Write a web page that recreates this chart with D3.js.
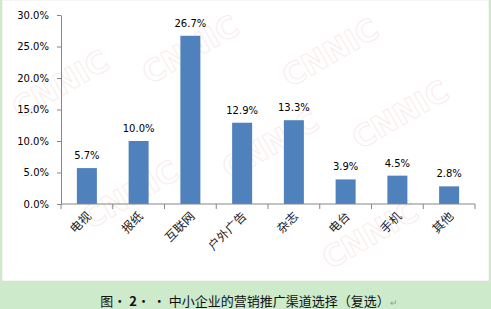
<!DOCTYPE html>
<html>
<head>
<meta charset="utf-8">
<title>中小企业的营销推广渠道选择</title>
<style>
    body { margin: 0; background: #cdeacb; }
    .tick text { font-family: "DejaVu Sans", sans-serif; font-size: 10px; fill: #000; }
    .domain, .tick line { stroke: #868686; }
    .value { font-family: "DejaVu Sans", sans-serif; font-size: 10px; fill: #000; }
    .cat { font-family: "Noto Sans CJK SC", serif; font-size: 12px; fill: #222; }
    .mark { font-family: "DejaVu Sans", sans-serif; font-size: 30px; font-weight: bold; fill: none; stroke: #f8ecec; stroke-width: 1; }
    .caption { font-family: "Noto Sans CJK SC", sans-serif; font-size: 13px; fill: #111; }
</style>
</head>
<body>
<svg width="491" height="309"></svg>
<script src="https://d3js.org/d3.v7.min.js"></script>
<script>
const categories = ["电视", "报纸", "互联网", "户外广告", "杂志", "电台", "手机", "其他"];
const values = [5.7, 10.0, 26.7, 12.9, 13.3, 3.9, 4.5, 2.8];
const yTicks = [0, 5, 10, 15, 20, 25, 30];
const captionParts = ["图· ", "2", "· · 中小企业的营销推广渠道选择（复选）", "↵"];

const svg = d3.select("svg");

// white chart area, green page behind it
svg.append("rect").attr("x", 2).attr("y", 0).attr("width", 487).attr("height", 281)
    .attr("fill", "#fff").attr("stroke", "#d8d8d8").attr("stroke-width", 0.5);

// faint CNNIC watermarks
const wmPos = [[20, 120], [150, 85], [290, 88], [90, 230], [230, 180], [360, 150], [330, 270]];
svg.append("g").selectAll("text").data(wmPos).join("text")
    .attr("class", "mark")
    .attr("transform", d => `translate(${d[0]},${d[1]}) rotate(-30)`)
    .text("CNNIC");

const x = d3.scaleBand().domain(categories).range([61, 475]);
const y = d3.scaleLinear().domain([0, 30]).range([204, 15]);

const barW = 20;
svg.append("g").selectAll("rect").data(values).join("rect")
    .attr("x", (d, i) => x(categories[i]) + x.bandwidth() / 2 - barW / 2)
    .attr("y", d => y(d))
    .attr("width", barW)
    .attr("height", d => y(0) - y(d))
    .attr("fill", "#4f81bd");

svg.append("g").selectAll("text").data(values).join("text")
    .attr("class", "value")
    .attr("x", (d, i) => x(categories[i]) + x.bandwidth() / 2)
    .attr("y", d => y(d) - 9)
    .attr("text-anchor", "middle")
    .text(d => d.toFixed(1) + "%");

// y axis
svg.append("g").attr("transform", "translate(61,0)")
    .call(d3.axisLeft(y).tickValues(yTicks).tickFormat(d => d.toFixed(1) + "%").tickSize(4).tickSizeOuter(0).tickPadding(8));

// x axis: tick marks at band edges
const xAxis = svg.append("g").attr("transform", `translate(0,${y(0)})`);
xAxis.append("line").attr("class", "domain")
    .attr("x1", 61).attr("x2", 475).attr("stroke", "#868686");
const edges = categories.map(c => x(c)).concat([x.range()[1]]);
xAxis.selectAll(".edge").data(edges).join("line")
    .attr("class", "edge")
    .attr("x1", d => d).attr("x2", d => d)
    .attr("y1", 0).attr("y2", 5)
    .attr("stroke", "#868686");

svg.append("g").selectAll("text").data(categories).join("text")
    .attr("class", "cat")
    .attr("text-anchor", "end")
    .attr("transform", c => `translate(${x(c) + x.bandwidth() / 2 + 5},${y(0) + 13}) rotate(-45)`)
    .text(c => c);

// caption
const cap = svg.append("text").attr("class", "caption")
    .attr("x", 249).attr("y", 306).attr("text-anchor", "middle");
cap.selectAll("tspan").data(captionParts).join("tspan")
    .attr("font-weight", (d, i) => i === 1 ? "bold" : null)
    .attr("font-size", (d, i) => i === 3 ? "9px" : null)
    .attr("fill", (d, i) => i === 3 ? "#999" : null)
    .text(d => d);
</script>
</body>
</html>
